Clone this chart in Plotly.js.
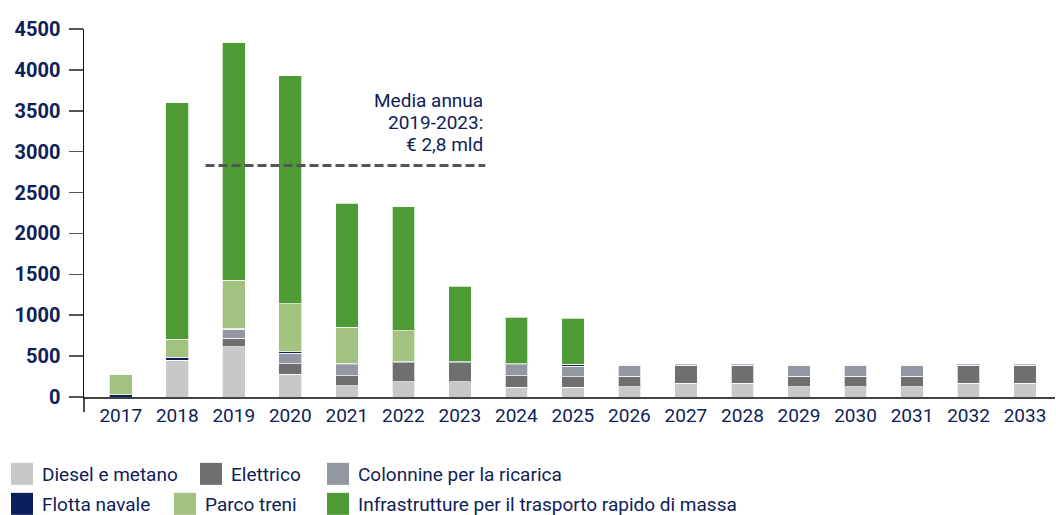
<!DOCTYPE html>
<html>
<head>
<meta charset="utf-8">
<script src="https://cdn.plot.ly/plotly-3.0.1.min.js"></script>
<style>
  html, body { margin: 0; padding: 0; background: #ffffff; }
  #chart { width: 1056px; height: 515px; }
</style>
</head>
<body>
<div id="chart"></div>
<script>
// ---- data ----
const years = ['2017','2018','2019','2020','2021','2022','2023','2024','2025','2026','2027','2028','2029','2030','2031','2032','2033'];
const diesel      = [0, 452, 615, 281, 138, 187, 187, 122, 122, 126, 171, 171, 126, 126, 126, 171, 171];
const elettrico   = [0, 0, 106, 126, 119, 229, 229, 135, 126, 127, 220, 220, 127, 127, 127, 220, 220];
const colonnine   = [0, 0, 107, 131, 138, 5, 5, 138, 127, 135, 5, 5, 135, 135, 135, 5, 5];
const flotta      = [30, 35, 15, 15, 12, 10, 10, 12, 28, 10, 12, 12, 10, 10, 10, 12, 12];
const parcoTreni  = [250, 220, 587, 588, 449, 380, 0, 0, 0, 0, 0, 0, 0, 0, 0, 0, 0];
const infra       = [0, 2890, 2903, 2790, 1514, 1513, 922, 571, 563, 0, 0, 0, 0, 0, 0, 0, 0];
const seriesNames = ['Diesel e metano', 'Elettrico', 'Colonnine per la ricarica', 'Flotta navale', 'Parco treni', 'Infrastrutture per il trasporto rapido di massa'];
const yTickVals = [0, 500, 1000, 1500, 2000, 2500, 3000, 3500, 4000, 4500];
const avgValue = 2830;
const avgFrom = '2019';
const avgTo = '2023';
const avgLabel = ['Media annua', '2019-2023:', '€ 2,8 mld'];

// ---- styles ----
const seriesValues = [diesel, elettrico, colonnine, flotta, parcoTreni, infra];
const seriesColors = ['#c8c8c8', '#6f6f6f', '#9397a2', '#0c1f5c', '#a3c27f', '#4e9b35'];
const navy = '#0f2157';
const FONT = 'Roboto, "Liberation Sans", sans-serif';
const W = 1056, H = 515;
// legend entry anchor positions in px (left of entry, vertical centre)
const legendSpots = [[2, 474], [191, 474], [318, 474], [2, 504], [165, 504], [318, 504]];

const traces = seriesNames.map((name, i) => ({
  type: 'bar',
  name: name,
  x: years,
  y: seriesValues[i],
  marker: { color: seriesColors[i], line: { color: 'rgba(255,255,255,0.7)', width: 1 } },
  legend: i === 0 ? 'legend' : 'legend' + (i + 1),
  showlegend: true,
  hoverinfo: 'x+y+name'
}));

const layout = {
  width: W, height: H,
  margin: { l: 84, r: 1, t: 29, b: 118 },
  paper_bgcolor: '#ffffff',
  plot_bgcolor: '#ffffff',
  barmode: 'stack',
  bargap: 0.6,
  showlegend: true,
  font: { family: FONT, color: navy, size: 19 },
  xaxis: {
    type: 'category',
    range: [-0.65, 16.53],
    showline: true, linecolor: '#444444', linewidth: 2,
    ticks: '', showgrid: false, zeroline: false,
    tickfont: { family: FONT, size: 19, color: navy }
  },
  yaxis: {
    range: [0, 4500],
    tickvals: yTickVals,
    showline: true, linecolor: '#111111', linewidth: 1.5,
    ticks: 'outside', ticklen: 14, tickwidth: 1.5, tickcolor: '#555555',
    ticklabelstandoff: 4,
    showgrid: false, zeroline: false,
    tickfont: { family: FONT, size: 20, color: navy, weight: 'bold' }
  },
  shapes: [
    {
      type: 'line', xref: 'x', yref: 'y',
      x0: years.indexOf(avgFrom) - 0.5, x1: years.indexOf(avgTo) + 0.45,
      y0: avgValue, y1: avgValue,
      line: { color: '#555555', width: 3, dash: '9px,4px' }
    },
    {
      type: 'line', xref: 'paper', yref: 'paper',
      x0: 0, x1: 0, y0: 0, y1: -15 / 368,
      line: { color: '#111111', width: 1.5 }
    }
  ],
  annotations: avgLabel.map((t, k) => ({
    xref: 'x', yref: 'y',
    x: years.indexOf(avgTo) + 0.45, y: avgValue,
    xanchor: 'right', yanchor: 'bottom',
    yshift: 8 + (avgLabel.length - 1 - k) * 22,
    text: t, showarrow: false, align: 'right',
    font: { family: FONT, size: 19, color: navy }
  }))
};

legendSpots.forEach((p, i) => {
  const key = i === 0 ? 'legend' : 'legend' + (i + 1);
  layout[key] = {
    visible: true,
    xref: 'container', yref: 'container',
    x: p[0] / W, y: 1 - p[1] / H,
    xanchor: 'left', yanchor: 'middle',
    orientation: 'h',
    bgcolor: 'rgba(0,0,0,0)', borderwidth: 0,
    font: { family: FONT, size: 19, color: navy }
  };
});

function enlargeLegendSymbols(gd) {
  gd.querySelectorAll('.legendpoints path').forEach(p => {
    p.setAttribute('d', 'M11,11H-11V-11H11Z');
    p.style.strokeWidth = '0px';
  });
}

Plotly.newPlot('chart', traces, layout, { displayModeBar: false, staticPlot: true }).then(gd => {
  enlargeLegendSymbols(gd);
  setTimeout(() => enlargeLegendSymbols(gd), 50);
});
</script>
</body>
</html>
